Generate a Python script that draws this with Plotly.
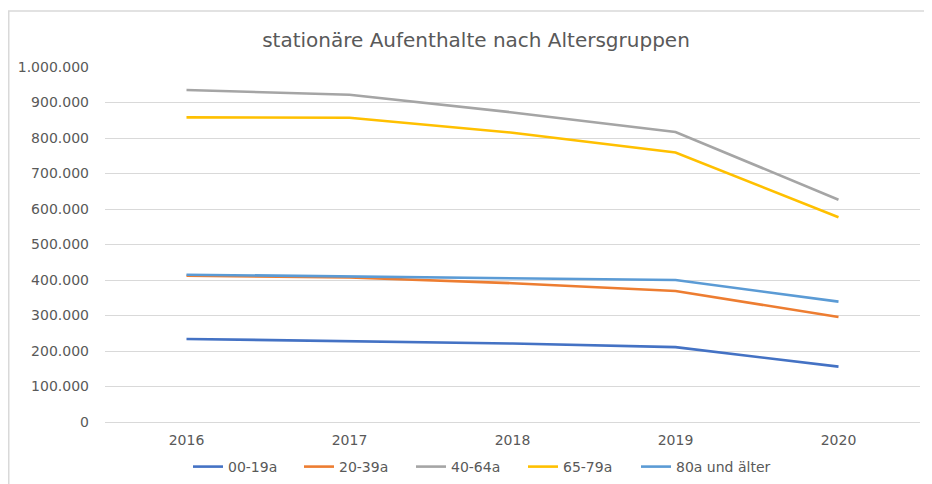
import plotly.graph_objects as go

years = ["2016", "2017", "2018", "2019", "2020"]
series_names = ["00-19a", "20-39a", "40-64a", "65-79a", "80a und älter"]
v_00_19 = [234000, 227000, 221000, 211000, 156000]
v_20_39 = [412000, 407000, 391000, 369000, 296000]
v_40_64 = [935000, 922000, 872000, 817000, 626000]
v_65_79 = [858000, 857000, 815000, 759000, 577000]
v_80 = [415000, 410000, 405000, 400000, 339000]
colors = ["#4472C4", "#ED7D31", "#A5A5A5", "#FFC000", "#5B9BD5"]
y_ticks = [0, 100000, 200000, 300000, 400000, 500000, 600000, 700000, 800000, 900000, 1000000]

values = [v_00_19, v_20_39, v_40_64, v_65_79, v_80]

# page body has an 8px margin, so the figure is laid out in a 924x476 box
W, H = 924, 476
OFF = 8
font_family = "DejaVu Sans"
txt = "#595959"

legend_ids = ["legend", "legend2", "legend3", "legend4", "legend5"]
legend_text_x = [228, 339, 451, 563, 676]  # screen x where each legend text starts

fig = go.Figure()
for name, vals, col, lid in zip(series_names, values, colors, legend_ids):
    fig.add_trace(go.Scatter(x=years, y=vals, mode="lines", name=name,
                             line=dict(color=col, width=2.6), legend=lid))

plot_l, plot_r, plot_t, plot_b = 105 - OFF, 920 - OFF, 67 - OFF, 422 - OFF
legend_layout = {}
for lid, tx in zip(legend_ids, legend_text_x):
    legend_layout[lid] = dict(orientation="h", x=(tx - 40 - OFF) / W, xanchor="left",
                              xref="container", y=1 - (467 - OFF) / H, yanchor="middle",
                              yref="container", bgcolor="rgba(0,0,0,0)",
                              font=dict(family=font_family, size=14, color=txt),
                              itemwidth=30)

fig.update_layout(
    width=W, height=H,
    paper_bgcolor="white", plot_bgcolor="white",
    separators=",.",
    margin=dict(l=plot_l, r=W - plot_r, t=plot_t, b=H - plot_b),
    title=dict(text="stationäre Aufenthalte nach Altersgruppen",
               x=(476 - OFF) / W, xanchor="center", xref="container",
               y=1 - (40 - OFF) / H, yanchor="middle", yref="container",
               font=dict(family=font_family, size=20, color=txt),
               automargin=False),
    font=dict(family=font_family, size=14, color=txt),
    showlegend=True,
    xaxis=dict(type="category", range=[-0.5, 4.5], showgrid=False,
               showline=True, linecolor="#D9D9D9", linewidth=1,
               ticks="", tickfont=dict(size=14, color=txt), ticklabelstandoff=5,
               automargin=False),
    yaxis=dict(range=[0, 1000000], tickvals=y_ticks, tickformat=",.0f",
               showgrid=True, gridcolor="#D9D9D9", gridwidth=1,
               zeroline=False, showline=False, ticks="",
               tickfont=dict(size=14, color=txt), ticklabelstandoff=15,
               automargin=False),
    **legend_layout,
)

pw, ph = plot_r - plot_l, plot_b - plot_t
fig.add_shape(type="rect", xref="paper", yref="paper",
              x0=(0.75 - plot_l) / pw, x1=(W + 5 - plot_l) / pw,
              y0=-(H + 5 - plot_b) / ph, y1=(plot_b - (11 - OFF)) / ph,
              line=dict(color="#D9D9D9", width=1.5), layer="below")

fig.write_html("out.html")
